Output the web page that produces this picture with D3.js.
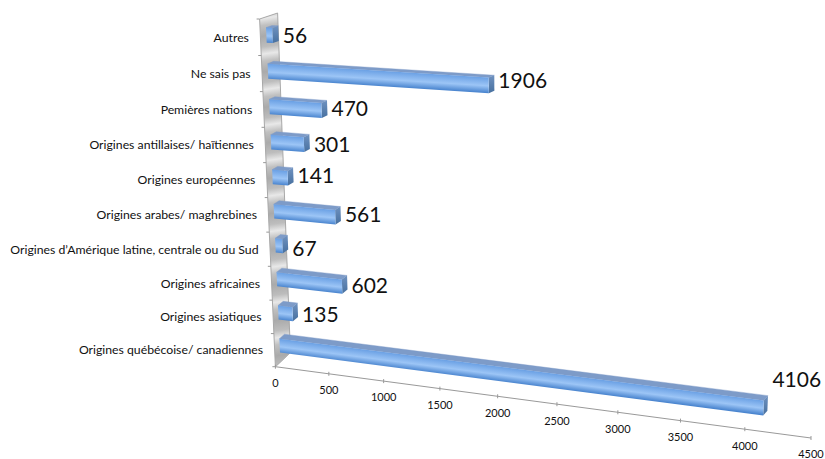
<!DOCTYPE html>
<html><head><meta charset="utf-8">
<script src="https://cdn.jsdelivr.net/npm/d3@7/dist/d3.min.js"></script>
<style>html,body{margin:0;padding:0;background:#fff}svg{display:block}text{font-family:Lato,"Open Sans",sans-serif;fill:#111}</style>
</head><body><svg id="c" width="825" height="459"></svg>
<script>
const categories = ["Autres","Ne sais pas","Pemières nations","Origines antillaises/ haïtiennes","Origines européennes","Origines arabes/ maghrebines","Origines d’Amérique latine, centrale ou du Sud","Origines africaines","Origines asiatiques","Origines québécoise/ canadiennes"];
const values = [56,1906,470,301,141,561,67,602,135,4106];
const axisMax = 4500;

const front = [[265.6,17],[832,46],[815,433],[280.4,362]];
const depth = [[6,-2],[5,-1.5],[4,-5],[5,-4.7]];
const labelNudge = [0,-4,-1,1,-1,-1,4,1,3,0];
function quad(p){
  const [[x0,y0],[x1,y1],[x2,y2],[x3,y3]]=p;
  const dx1=x1-x2,dx2=x3-x2,sx=x0-x1+x2-x3,dy1=y1-y2,dy2=y3-y2,sy=y0-y1+y2-y3;
  const den=dx1*dy2-dx2*dy1, g=(sx*dy2-dx2*sy)/den, h=(dx1*sy-sx*dy1)/den;
  const a=x1-x0+g*x1,b=x3-x0+h*x3,d=y1-y0+g*y1,e=y3-y0+h*y3;
  return (u,v)=>{const w=g*u+h*v+1;return [(a*u+b*v+x0)/w,(d*u+e*v+y0)/w];};
}
const H0=quad(front), H1=quad(front.map((p,i)=>[p[0]+depth[i][0],p[1]+depth[i][1]]));
function P(u,v,d){const a=H0(u,v),b=H1(u,v);return [a[0]+(b[0]-a[0])*d,a[1]+(b[1]-a[1])*d];}

const xScale=d3.scaleLinear().domain([0,axisMax]).range([0,1]);
const yBand=d3.scaleBand().domain(categories).range([0,1]).paddingInner(0.58).paddingOuter(0.29);
const svg=d3.select("#c"), defs=svg.append("defs");
const path=pts=>"M"+pts.map(p=>p[0].toFixed(2)+","+p[1].toFixed(2)).join("L")+"Z";

// wall
const wg=defs.append("linearGradient").attr("id","wall").attr("gradientUnits","userSpaceOnUse")
 .attr("x1",268).attr("y1",35.5).attr("x2",273).attr("y2",70.5).attr("spreadMethod","repeat");
[[0,"#aaaaaa"],[.3,"#bdbdbd"],[.5,"#e8e8e8"],[.7,"#c0c0c0"],[1,"#aaaaaa"]].forEach(s=>wg.append("stop").attr("offset",s[0]).attr("stop-color",s[1]));
svg.append("path").attr("d",path([P(0,0,-1),P(0,0,2),P(0,1,2),P(0,1,-1)])).attr("fill","url(#wall)").attr("stroke","#a8a8a8").attr("stroke-width",1);

// category ticks
const L=d3.line();
d3.range(categories.length+1).forEach(i=>{
  const p=P(0,i/categories.length,-1);
  svg.append("path").attr("d",L([p,[p[0]-3,p[1]]])).attr("stroke","#999").attr("fill","none");
});
categories.forEach((c,i)=>{
  const p=P(0,(i+.5)/categories.length,-1);
  svg.append("text").attr("x",p[0]-11.5).attr("y",p[1]).attr("dy","0.35em").attr("text-anchor","end").attr("font-size",12.25).text(c);
});

// value axis
svg.append("path").attr("d",L([P(0,1,-1),P(1,1,-1)])).attr("stroke","#999").attr("fill","none");
svg.append("path").attr("d",L([P(0,1,-1),P(0,1,2)])).attr("stroke","#b5b5b5").attr("fill","none");
xScale.ticks(9).forEach(t=>{
  const p=P(xScale(t),1,-1);
  svg.append("path").attr("d",L([[p[0],p[1]-2],[p[0],p[1]+2]])).attr("stroke","#999").attr("fill","none");
  svg.append("text").attr("x",p[0]).attr("y",p[1]+16.5).attr("dy","0.35em").attr("text-anchor","middle").attr("font-size",11).text(t);
});

// bars
categories.forEach((c,i)=>{
  const v=values[i],u=xScale(v),t0=yBand(c),t1=t0+yBand.bandwidth();
  const a=P(0,t0,0),b=P(u,t0,0),cc=P(u,t1,0),dd=P(0,t1,0);
  const a2=P(0,t0,1),b2=P(u,t0,1),c2=P(u,t1,1);
  // gradient normal to the bar's long edge
  const mx=(a[0]+b[0])/2,my=(a[1]+b[1])/2,ex=b[0]-a[0],ey=b[1]-a[1],len=Math.hypot(ex,ey),nx=-ey/len,ny=ex/len;
  const h=((dd[0]+cc[0])/2-mx)*nx+((dd[1]+cc[1])/2-my)*ny;
  const g=defs.append("linearGradient").attr("id","f"+i).attr("gradientUnits","userSpaceOnUse")
    .attr("x1",mx).attr("y1",my).attr("x2",mx+nx*h).attr("y2",my+ny*h);
  [[0,"#6aa0e4"],[.55,"#9cc5f6"],[1,"#4a85cf"]].forEach(s=>g.append("stop").attr("offset",s[0]).attr("stop-color",s[1]));
  const gs=defs.append("linearGradient").attr("id","s"+i).attr("x1",0).attr("y1",0).attr("x2",0).attr("y2",1);
  [[0,"#6f92c0"],[1,"#47709f"]].forEach(s=>gs.append("stop").attr("offset",s[0]).attr("stop-color",s[1]));
  svg.append("path").attr("d",path([a,a2,b2,b])).attr("fill","#7d9bc8").attr("stroke","#7d9bc8").attr("stroke-width",.4);
  svg.append("path").attr("d",path([b,b2,c2,cc])).attr("fill",`url(#s${i})`);
  svg.append("path").attr("d",path([a,b,cc,dd])).attr("fill",`url(#f${i})`);
  const above=v===d3.max(values);
  const cy=(b2[1]+c2[1])/2;
  svg.append("text").attr("x",c2[0]+(above?5:4)).attr("y",above?cy-24:cy+2+labelNudge[i]).attr("dy","0.35em").attr("font-size",21).text(v);
});
</script></body></html>
